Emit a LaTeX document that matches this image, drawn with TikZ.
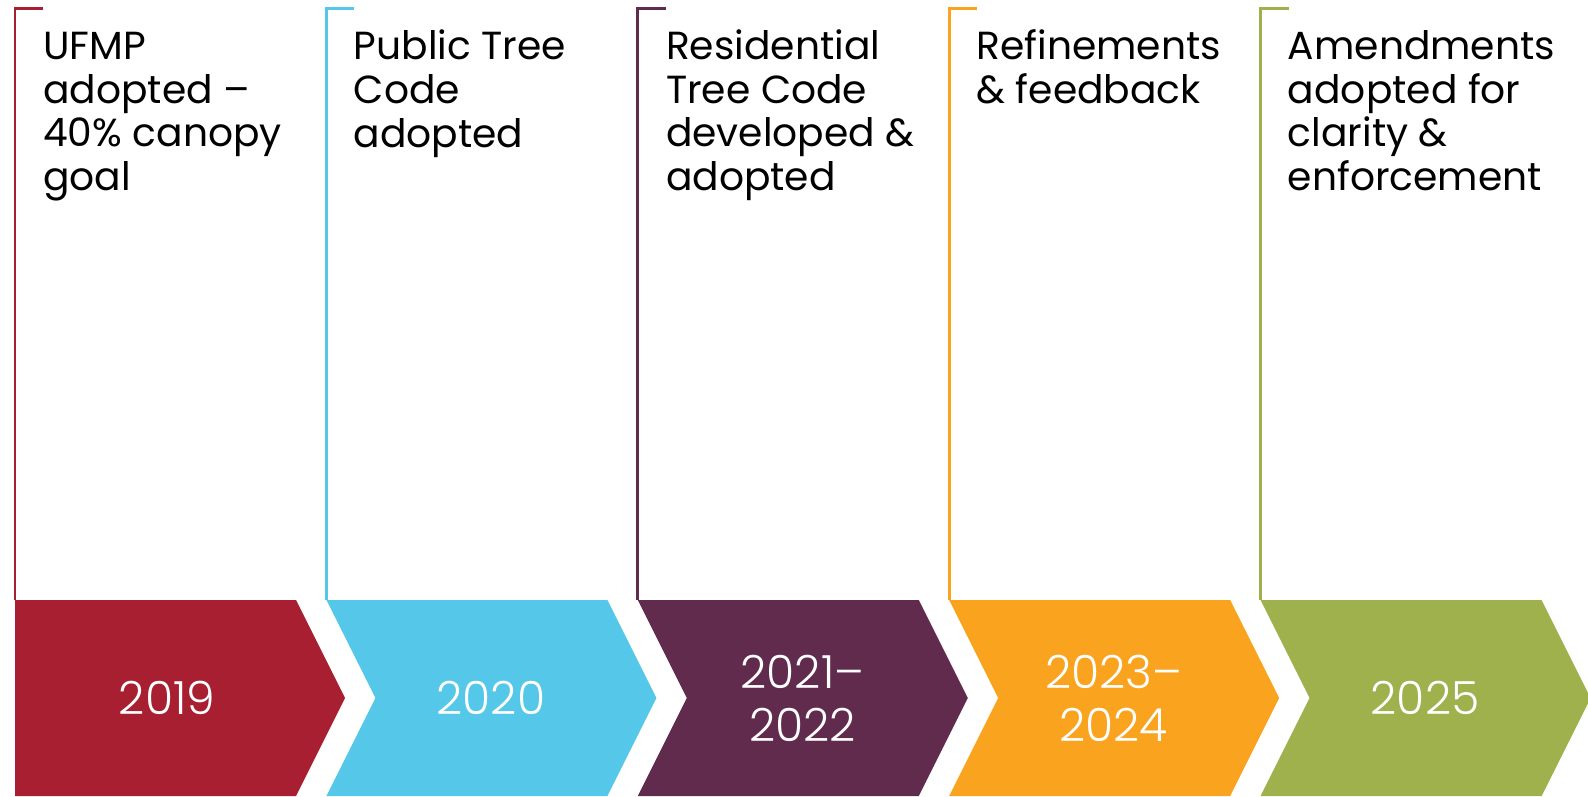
\documentclass[tikz,border=0pt]{standalone}
\usepackage{fontspec}
\setmainfont{Poppins}
\newfontfamily\yearfont[Ligatures=TeX]{Poppins Light}
\usetikzlibrary{positioning,calc}
\definecolor{tlred}{RGB}{167,31,49}
\definecolor{tlcyan}{RGB}{85,200,233}
\definecolor{tlplum}{RGB}{97,43,77}
\definecolor{tlorange}{RGB}{250,163,30}
\definecolor{tlgreen}{RGB}{158,177,77}
\tikzset{
  bracket/.style={line width=0.058cm, line cap=butt},
  % anchored at the baseline of the last line
  event/.style={anchor=base west, align=left, inner sep=0pt,
                font=\fontsize{22.3}{24.8}\selectfont, text=black},
  yearlabel/.style={align=center, inner sep=0pt,
                    font=\yearfont\fontsize{26}{30.2}\selectfont, text=white},
}

\begin{document}
\begin{tikzpicture}[x=0.02cm, y=0.02cm]
\useasboundingbox (0,0) rectangle (1588,796);

% ================= chevrons =================
% first stage: flat left edge
\fill[tlred] (15,196) -- (296,196) -- (345,98) -- (296,0) -- (15,0) -- cycle;
\foreach \i/\col in {1/tlcyan, 2/tlplum, 3/tlorange, 4/tlgreen}{
  \pgfmathsetmacro{\xa}{15+\i*311.4}
  \fill[\col] (\xa,196) -- ++(281,0) -- ++(49,-98) -- ++(-49,-98)
    -- (\xa,0) -- ++(49,98) -- cycle;
}

% ================= brackets =================
\foreach \i/\col in {0/tlred, 1/tlcyan, 2/tlplum, 3/tlorange, 4/tlgreen}{
  \pgfmathsetmacro{\xa}{15+\i*311.4}
  \coordinate (foot\i) at (\xa,196);
  \coordinate (head\i) at (\xa,787.7);
  \draw[bracket, draw=\col] (foot\i) -- (head\i) -- ++(28,0);
}

% ================= events =================
\node[event] (ev0) at (43,605.5) {UFMP\\adopted --\\40\% canopy\\goal};
\node[event] (ev1) at (353.4,649) {Public Tree\\Code\\adopted};
\node[event] (ev2) at (665.8,605.5) {Residential\\Tree Code\\developed \&\\adopted};
\node[event] (ev3) at (976.2,692.5) {Refinements\\\& feedback};
\node[event] (ev4) at (1287.6,605.5) {Amendments\\adopted for\\clarity \&\\enforcement};

% ================= years =================
\node[yearlabel] (yr0) at (167,98) {2019};
\node[yearlabel] (yr1) at (490.9,98) {2020};
\node[yearlabel] (yr2) at (802.3,98) {2021--\\2022};
\node[yearlabel] (yr3) at (1113.7,98) {2023--\\2024};
\node[yearlabel] (yr4) at (1425.1,98) {2025};
\end{tikzpicture}
\end{document}
